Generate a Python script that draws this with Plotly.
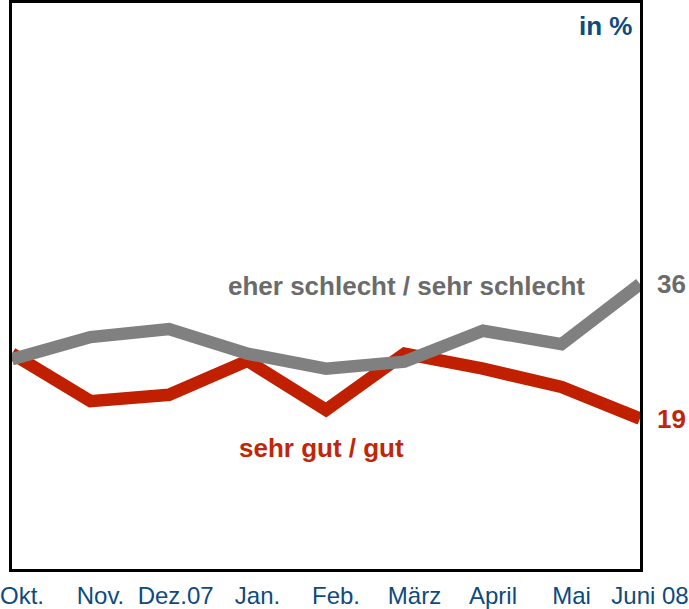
"""
Zufriedenheit Verlauf Okt. 07 - Juni 08
"""

import plotly.graph_objects as go

months = ["Okt.", "Nov.", "Dez.07 ", "Jan.", "Feb.", "März", "April", "Mai", "Juni 08"]
schlecht = [26.5, 29.3, 30.3, 27.2, 25.3, 26.2, 30.1, 28.4, 36]
gut = [27.2, 21.2, 22.0, 26.3, 20.1, 27.2, 25.3, 23.0, 19]

GREY = "#808080"
RED = "#c01f00"
BLUE = "#0d4a80"


def build():
    x = list(range(len(months)))
    fig = go.Figure()
    fig.add_trace(go.Scatter(x=x, y=gut, mode="lines",
                             line=dict(color=RED, width=12.5)))
    fig.add_trace(go.Scatter(x=x, y=schlecht, mode="lines",
                             line=dict(color=GREY, width=12.5)))

    # series labels and end values
    fig.add_annotation(x=5.02, y=35.8, text="<b>eher schlecht / sehr schlecht</b>",
                       showarrow=False, font=dict(size=26, color="#6b6b6b"))
    fig.add_annotation(x=3.94, y=15.3, text="<b>sehr gut / gut</b>",
                       showarrow=False, font=dict(size=26, color="#c0260a"))
    fig.add_annotation(x=8, y=schlecht[-1], text="<b>%d</b>" % schlecht[-1],
                       showarrow=False, xanchor="left", xshift=15,
                       font=dict(size=26, color="#6b6b6b"))
    fig.add_annotation(x=8, y=gut[-1], text="<b>%d</b>" % gut[-1],
                       showarrow=False, xanchor="left", xshift=15,
                       font=dict(size=26, color="#c0260a"))
    fig.add_annotation(x=1, y=1, xref="paper", yref="paper", text="<b>in %</b>",
                       showarrow=False, xanchor="right", yanchor="top",
                       xshift=-6, yshift=-6, font=dict(size=26, color=BLUE))

    fig.update_xaxes(range=[0, 8], tickvals=x, ticktext=months, ticks="",
                     ticklabelshift=10, ticklabelstandoff=3,
                     ticklabeloverflow="allow",
                     showgrid=False, zeroline=False,
                     showline=True, mirror=True, linecolor="black", linewidth=2.5,
                     tickfont=dict(size=24, color=BLUE))
    fig.update_yaxes(range=[0, 71.5], showticklabels=False, ticks="",
                     showgrid=False, zeroline=False,
                     showline=True, mirror=True, linecolor="black", linewidth=2.5)
    fig.update_layout(width=689, height=609, showlegend=False,
                      plot_bgcolor="white", paper_bgcolor="white",
                      font=dict(family="Arial, Liberation Sans, sans-serif"),
                      margin=dict(l=0, r=42, t=3, b=40))
    return fig


if __name__ == '__main__':
    fig = build()
    page_css = ("document.documentElement.style.margin='0';"
                "document.documentElement.style.overflow='hidden';"
                "document.body.style.margin='0';"
                "document.body.style.overflow='hidden';")
    fig.write_html("out.html", config={"displayModeBar": False},
                   post_script=page_css)
